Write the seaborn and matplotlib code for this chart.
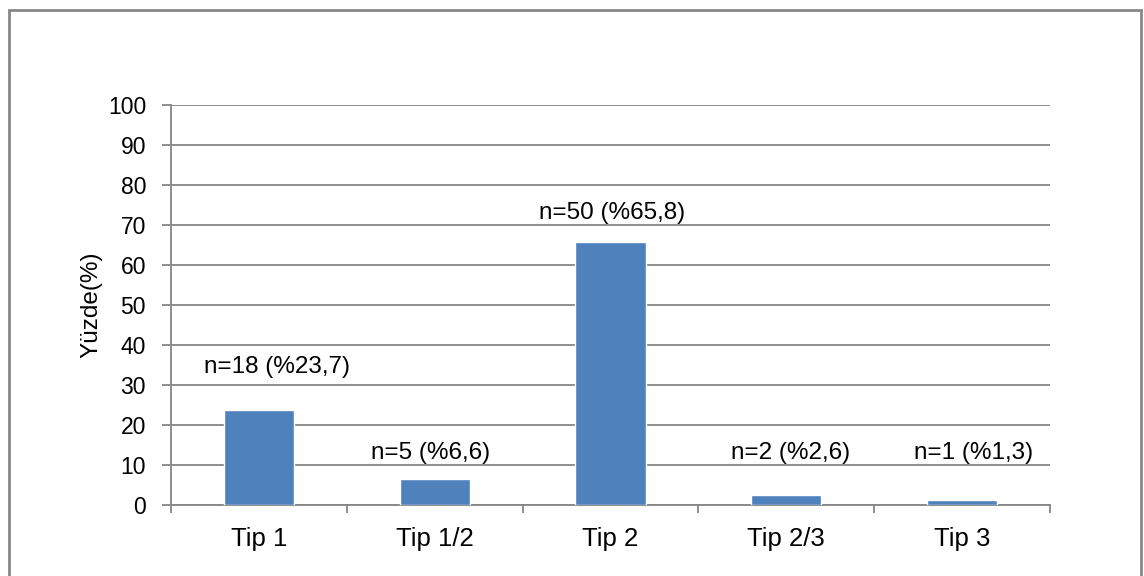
import matplotlib
matplotlib.use("Agg")
import matplotlib.pyplot as plt
import seaborn as sns
import pandas as pd
from matplotlib.patches import Rectangle
from matplotlib.ticker import FixedLocator

categories = ["Tip 1", "Tip 1/2", "Tip 2", "Tip 2/3", "Tip 3"]
values = [23.7, 6.6, 65.8, 2.6, 1.3]
labels = ["n=18 (%23,7)", "n=5 (%6,6)", "n=50 (%65,8)", "n=2 (%2,6)", "n=1 (%1,3)"]
yticks = [0, 10, 20, 30, 40, 50, 60, 70, 80, 90, 100]
# placement of the data labels (label centre): y in axis units, x shift in category units
label_y = [34.4, 12.9, 72.9, 12.9, 12.9]
label_dx = [0.101, -0.026, 0.010, 0.023, 0.066]

sns.set_theme(style="white")
plt.rcParams['font.family'] = ['Liberation Sans', 'DejaVu Sans']

W, H = 1144, 576
fig = plt.figure(figsize=(W / 100, H / 100), dpi=100)
ax = fig.add_axes([171 / W, 1 - 505 / H, (1050 - 171) / W, (505 - 105) / H])

df = pd.DataFrame({"cat": categories, "val": values})
sns.barplot(data=df, x="cat", y="val", color="#4F81BD", width=0.4, ax=ax,
            saturation=1, zorder=3)

for i, (t, ly, dx) in enumerate(zip(labels, label_y, label_dx)):
    ax.text(i + dx, ly, t, ha="center", va="center", fontsize=17.5, color="#000000")

ax.set_ylim(0, 100)
ax.set_xlim(-0.5, len(categories) - 0.5)
ax.set_yticks(yticks)
ax.yaxis.grid(True, color="#868686", linewidth=1.3, zorder=0)
ax.set_axisbelow(True)
ax.tick_params(axis="y", which="major", length=6.5, width=1.3, color="#868686",
               labelsize=16.5, left=True, pad=11.5, labelcolor="#000000")
ax.tick_params(axis="x", which="major", length=0, labelsize=18.5, pad=16,
               labelcolor="#000000")
ax.xaxis.set_minor_locator(FixedLocator([i - 0.5 for i in range(len(categories) + 1)]))
ax.tick_params(axis="x", which="minor", length=5.8, width=1.3, color="#868686",
               bottom=True)
ax.set_xlabel("")
ax.set_ylabel("Yüzde(%)", fontsize=17.5, labelpad=3.5, color="#000000")

for s in ["top", "right"]:
    ax.spines[s].set_visible(False)
for s in ["left", "bottom"]:
    ax.spines[s].set_color("#868686")
    ax.spines[s].set_linewidth(1.3)

fig.add_artist(Rectangle((8.5 / W, -0.2), (1141 - 8.5) / W, 1.2 - 9.5 / H,
                         transform=fig.transFigure, fill=False,
                         edgecolor="#888888", linewidth=2))

fig.savefig("out.png", dpi=100)
